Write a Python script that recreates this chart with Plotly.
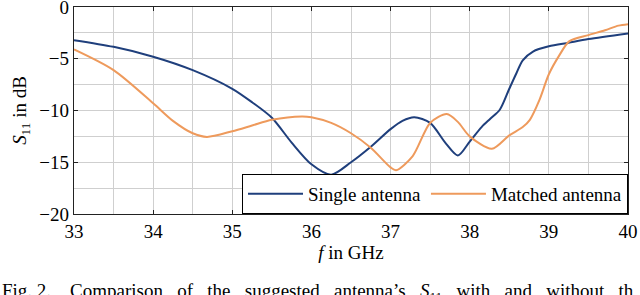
import plotly.graph_objects as go

# Frequency (GHz) and S11 (dB)
f_single = [33.0, 33.5, 34.0, 34.5, 35.0, 35.25, 35.5, 35.75, 36.0, 36.25, 36.5, 36.75,
            37.0, 37.15, 37.3, 37.5, 37.7, 37.85, 38.0, 38.15, 38.26, 38.38, 38.5,
            38.59, 38.67, 38.8, 39.0, 39.25, 39.5, 40.0]
s_single = [-3.2, -3.85, -4.8, -6.1, -7.9, -9.2, -10.7, -13.1, -15.2, -16.2, -15.0, -13.5,
            -11.8, -11.0, -10.65, -11.2, -13.2, -14.35, -13.0, -11.6, -10.8, -9.93, -7.9,
            -6.4, -5.15, -4.3, -3.8, -3.45, -3.1, -2.55]

f_matched = [33.0, 33.5, 34.0, 34.25, 34.5, 34.68, 35.0, 35.25, 35.5, 35.88, 36.0, 36.25,
             36.5, 36.75, 37.0, 37.07, 37.28, 37.5, 37.71, 37.85, 38.0, 38.28, 38.5, 38.67,
             38.76, 38.88, 39.0, 39.13, 39.26, 39.5, 39.71, 39.88, 40.0]
s_matched = [-4.1, -6.1, -9.3, -11.0, -12.2, -12.55, -12.0, -11.45, -10.9, -10.57, -10.65, -11.2,
             -12.2, -13.6, -15.5, -15.77, -14.4, -11.2, -10.35, -11.1, -12.5, -13.7, -12.4, -11.6,
             -10.9, -9.0, -6.5, -4.7, -3.3, -2.72, -2.24, -1.8, -1.66]

x_ticks = [33, 34, 35, 36, 37, 38, 39, 40]
y_ticks = [0, -5, -10, -15, -20]
y_tick_labels = ["0", "\u22125", "\u221210", "\u221215", "\u221220"]

BLUE = "#1f3f7c"
ORANGE = "#ee9a5c"
FONT = "Liberation Serif"

fig = go.Figure()
fig.add_trace(go.Scatter(x=f_single, y=s_single, mode="lines", name="Single antenna",
                         line=dict(color=BLUE, width=2, shape="spline", smoothing=0.8)))
fig.add_trace(go.Scatter(x=f_matched, y=s_matched, mode="lines", name="Matched antenna",
                         line=dict(color=ORANGE, width=2, shape="spline", smoothing=0.8)))

grid = "#cfcfcf"
common = dict(automargin=False, showgrid=True, gridcolor=grid, gridwidth=1,
              showline=True, linecolor="#222", linewidth=1.3, mirror="ticks",
              ticks="inside", ticklen=4, tickcolor="#222", zeroline=False,
              ticklabeloverflow="allow",
              tickfont=dict(family=FONT, size=19, color="black"))
fig.update_xaxes(range=[33, 40], tickvals=x_ticks, ticktext=[str(v) for v in x_ticks],
                 minor=dict(dtick=0.5, showgrid=True, gridcolor=grid, gridwidth=1),
                 title=dict(text="<i>f</i> in GHz", font=dict(family=FONT, size=19, color="black"),
                            standoff=4), **common)
fig.update_yaxes(range=[-20, 0], tickvals=y_ticks, ticktext=y_tick_labels,
                 minor=dict(dtick=2.5, showgrid=True, gridcolor=grid, gridwidth=1),
                 title=dict(text="<i>S</i><sub>11</sub> in dB", font=dict(family=FONT, size=19, color="black"),
                            standoff=7), **common)

fig.update_layout(
    width=640, height=295,
    margin=dict(l=74, r=12, t=7, b=81, autoexpand=False),
    plot_bgcolor="white", paper_bgcolor="white",
    legend=dict(orientation="h", x=1, xanchor="right", y=0, yanchor="bottom",
                bgcolor="white", bordercolor="black", borderwidth=1,
                font=dict(family=FONT, size=19, color="black"),
                itemwidth=55, tracegroupgap=0),
    showlegend=True,
)

# Caption (cut off at bottom of the page in the reference)
gap = "&nbsp;" * 3
caption = ("Fig. 2." + "&nbsp;" * 4 + "Comparison" + gap + "of" + gap + "the" + gap + "suggested"
           + gap + "antenna\u2019s" + gap + "<i>S</i><sub>11</sub>" + gap + "with" + gap + "and"
           + gap + "without" + gap + "th")
fig.add_annotation(text=caption, xref="paper", yref="paper",
                   x=(0 - 74) / 554, y=(214 - 278) / 207,
                   xanchor="left", yanchor="top", showarrow=False,
                   font=dict(family=FONT, size=19, color="black"))

fig.write_html("out.html", post_script="document.body.style.margin='0';",
               config={"displayModeBar": False})
